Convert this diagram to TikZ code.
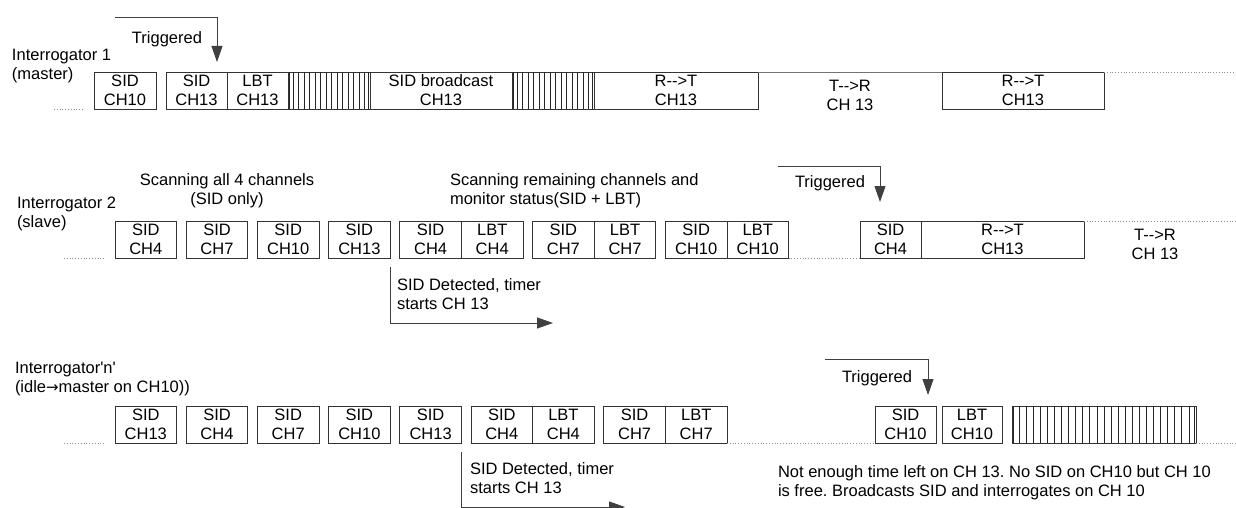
\documentclass[tikz,border=0pt]{standalone}
\usepackage{fontspec}
\newfontfamily\arialfont{Liberation Sans}
\newfontfamily\arrowfont{DejaVu Sans}
\usetikzlibrary{arrows.meta,positioning}
\frenchspacing

\begin{document}
\begin{tikzpicture}[x=1pt,y=-1pt,>={Triangle[length=16pt,width=11pt]},
                    font=\arialfont\fontsize{16.5}{19}\selectfont,
                    node distance=9.6pt]
\tikzstyle{every node}=[inner sep=0pt,outer sep=0pt]
\tikzstyle{slot}=[draw=black!80,line width=0.9pt,align=center,minimum width=61.6pt,minimum height=37pt]
\tikzstyle{hatch}=[slot]
\tikzstyle{base}=[draw=black!45,line width=0.8pt,dotted]
\tikzstyle{trig}=[->,draw=black!75,line width=0.9pt]
\tikzstyle{lbl}=[align=left,anchor=west]
\useasboundingbox (0,0) rectangle (1236,508);

% Interrogator 1
\node[lbl] (i1) at (12,66.5) {Interrogator 1\\(master)};
\node[slot,anchor=north west,minimum width=62pt] (m1) at (94,72) {SID\\CH10};
\node[slot,minimum width=61pt] (m2) [right=10pt of m1] {SID\\CH13};
\node[slot,minimum width=61pt] (m3) [right=0pt of m2] {LBT\\CH13};
\node[hatch,minimum width=82pt] (h1) [right=0pt of m3] {};
\node[slot,minimum width=142pt] (m4) [right=0pt of h1] {SID broadcast\\CH13};
\node[hatch,minimum width=82pt] (h2) [right=0pt of m4] {};
\node[slot,minimum width=164pt] (m5) [right=0pt of h2] {R-->T\\CH13};
\node[slot,minimum width=162pt] (m6) [right=184pt of m5] {R-->T\\CH13};
\node at (850,95.5) [align=center] {T-->R\\CH 13};

% Interrogator 2
\node[lbl] (i2) at (17,214) {Interrogator 2\\(slave)};
\node at (227,191) [align=center] {Scanning all 4 channels\\(SID only)};
\node[lbl] at (450,191) {Scanning remaining channels and\\monitor status(SID + LBT)};
\node[slot,anchor=north west] (s1) at (115,221) {SID\\CH4};
\node[slot] (s2) [right=of s1] {SID\\CH7};
\node[slot] (s3) [right=of s2] {SID\\CH10};
\node[slot] (s4) [right=of s3] {SID\\CH13};
\node[slot] (s5) [right=of s4] {SID\\CH4};
\node[slot] (s6) [right=0pt of s5] {LBT\\CH4};
\node[slot] (s7) [right=of s6] {SID\\CH7};
\node[slot] (s8) [right=0pt of s7] {LBT\\CH7};
\node[slot] (s9) [right=of s8] {SID\\CH10};
\node[slot] (s10) [right=0pt of s9] {LBT\\CH10};
\node[slot,minimum width=61pt] (s11) [right=71.4pt of s10] {SID\\CH4};
\node[slot,minimum width=163pt] (s12) [right=0pt of s11] {R-->T\\CH13};
\node at (1155,244) [align=center] {T-->R\\CH 13};

% Interrogator 'n'
\node[lbl] (i3) at (15,379.5) {Interrogator'n'\\(idle{\arrowfont\fontsize{15}{19}\selectfont →}master on CH10))};
\node[slot,anchor=north west] (n1) at (115,406) {SID\\CH13};
\node[slot] (n2) [right=of n1] {SID\\CH4};
\node[slot] (n3) [right=of n2] {SID\\CH7};
\node[slot] (n4) [right=of n3] {SID\\CH10};
\node[slot] (n5) [right=of n4] {SID\\CH13};
\node[slot] (n6) [right=of n5] {SID\\CH4};
\node[slot] (n7) [right=0pt of n6] {LBT\\CH4};
\node[slot] (n8) [right=of n7] {SID\\CH7};
\node[slot] (n9) [right=0pt of n8] {LBT\\CH7};
\node[slot,minimum width=61pt] (n10) [right=148pt of n9] {SID\\CH10};
\node[slot,minimum width=60pt] (n11) [right=6pt of n10] {LBT\\CH10};
\node[hatch,minimum width=184pt] (h3) [right=10pt of n11] {};
\node[lbl] at (778,483) {Not enough time left on CH 13. No SID on CH10 but CH 10\\is free. Broadcasts SID and interrogates on CH 10};

% hatching
\foreach \h/\n/\d in {h1/14/5.47,h2/14/5.47,h3/25/7.08} {
  \foreach \k in {1,...,\n}
    \draw[black!85,line width=0.9pt] ([xshift={\k*\d*1pt}]\h.north west) -- ([xshift={\k*\d*1pt}]\h.south west);
  \draw[black!85,line width=0.9pt] ([xshift=1.6pt]\h.north west) -- ([xshift=1.6pt]\h.south west);
  \draw[black!85,line width=0.9pt] ([xshift=-1.6pt]\h.north east) -- ([xshift=-1.6pt]\h.south east);
}

% time lines
\draw[base] ([xshift=-40pt]m1.south west) -- ([xshift=-10pt]m1.south west);
\draw[black!55,line width=0.9pt] (m5.north east) -- (m6.north west);
\draw[base] (m6.north east) -- ++(132,0);
\draw[base] ([xshift=-51pt]s1.south west) -- ([xshift=-11pt]s1.south west);
\draw[base] (s10.south east) -- (s11.south west);
\draw[base] (s12.north east) -- ++(152,0);
\draw[base] ([xshift=-51pt]n1.south west) -- ([xshift=-11pt]n1.south west);
\draw[base] (n9.south east) -- (n10.south west);
\draw[base] (h3.south east) -- ++(40,0);

% triggers
\coordinate (t1) at (115,17);
\draw[trig] (t1) -| ([xshift=-10pt,yshift=10pt]m2.north east);
\node at (167,39) {Triggered};
\coordinate (t2) at (778,166);
\draw[trig] (t2) -| ([xshift=20pt,yshift=19pt]s11.north west);
\node at (830,183) {Triggered};
\coordinate (t3) at (825,359);
\draw[trig] (t3) -| ([xshift=-8pt,yshift=11pt]n10.north east);
\node at (877,378) {Triggered};

% SID detected
\coordinate (e2) at (553,323);
\draw[trig] ([yshift=-9pt]s4.south east) |- (e2);
\node[lbl] at (397,294.5) {SID Detected, timer\\starts CH 13};
\coordinate (e3) at (625,507);
\draw[trig] ([yshift=-9pt]n5.south east) |- (e3);
\node[lbl] at (470,478) {SID Detected, timer\\starts CH 13};

\end{tikzpicture}
\end{document}
